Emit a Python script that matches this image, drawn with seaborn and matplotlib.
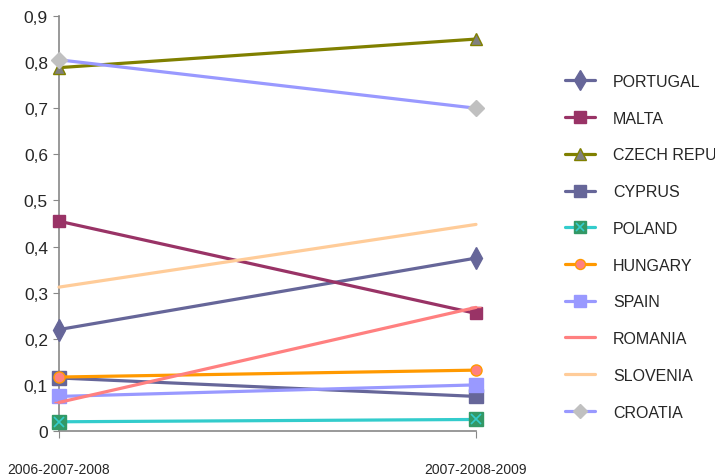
import matplotlib
matplotlib.use("Agg")
import matplotlib.pyplot as plt
import seaborn as sns
import pandas as pd
from matplotlib.lines import Line2D
from matplotlib.legend_handler import HandlerTuple
from matplotlib.ticker import FuncFormatter

periods = ["2006-2007-2008", "2007-2008-2009"]
countries = ["PORTUGAL", "MALTA", "CZECH REPUBLIC", "CYPRUS", "POLAND",
             "HUNGARY", "SPAIN", "ROMANIA", "SLOVENIA", "CROATIA"]
portugal = [0.22, 0.375]
malta = [0.455, 0.255]
czech = [0.788, 0.85]
cyprus = [0.115, 0.075]
poland = [0.02, 0.025]
hungary = [0.117, 0.132]
spain = [0.075, 0.1]
romania = [0.062, 0.268]
slovenia = [0.312, 0.448]
croatia = [0.805, 0.70]
yticks = [0, 0.1, 0.2, 0.3, 0.4, 0.5, 0.6, 0.7, 0.8, 0.9]

values = [portugal, malta, czech, cyprus, poland, hungary, spain, romania, slovenia, croatia]

styles = {
    "PORTUGAL": dict(color="#666699", marker="d", ms=11, mfc="#666699", mec="#666699"),
    "MALTA": dict(color="#993366", marker="s", ms=9, mfc="#993366", mec="#993366"),
    "CZECH REPUBLIC": dict(color="#808000", marker="^", ms=9, mfc="#808080", mec="#808000"),
    "CYPRUS": dict(color="#666699", marker="s", ms=10, mfc="#666699", mec="#666699"),
    "POLAND": dict(color="#33CCCC", marker="s", ms=10, mfc="#339966", mec="#339966"),
    "HUNGARY": dict(color="#FF9900", marker="o", ms=8, mfc="#FF8080", mec="#FF9900"),
    "SPAIN": dict(color="#9999FF", marker="s", ms=10, mfc="#9999FF", mec="#9999FF"),
    "ROMANIA": dict(color="#FF8080", marker="_", ms=7, mfc="#FF8080", mec="#FF8080"),
    "SLOVENIA": dict(color="#FFCC99", marker=None, ms=0, mfc="#FFCC99", mec="#FFCC99"),
    "CROATIA": dict(color="#9999FF", marker="D", ms=8, mfc="#C0C0C0", mec="#C0C0C0"),
}

rows = []
for c, v in zip(countries, values):
    for i, p in enumerate(periods):
        rows.append({"country": c, "x": i, "value": v[i]})
df = pd.DataFrame(rows)

sns.set_style("white")
plt.rcParams['font.family'] = ['Liberation Sans', 'DejaVu Sans']

fig = plt.figure(figsize=(7.15, 4.77), dpi=100)
ax = fig.add_axes([59/715, 1-432/477, (476-59)/715, (432-17)/477])

handles = []
for c in countries:
    st = styles[c]
    sub = df[df["country"] == c]
    sns.lineplot(data=sub, x="x", y="value", ax=ax, color=st["color"], lw=2.3,
                 marker=st["marker"] if st["marker"] else None,
                 markersize=st["ms"], markerfacecolor=st["mfc"],
                 markeredgecolor=st["mec"], markeredgewidth=1.0,
                 legend=False, clip_on=False, zorder=3)
    h = Line2D([], [], color=st["color"], lw=2.3, marker=st["marker"],
               markersize=st["ms"] * 0.9, markerfacecolor=st["mfc"],
               markeredgecolor=st["mec"])
    if c == "POLAND":
        hx = Line2D([], [], color="none", marker="x", markersize=6,
                    markeredgecolor="#33CCCC", markeredgewidth=1.2)
        handles.append((h, hx))
    else:
        handles.append(h)

# X glyph on Poland markers
ax.plot([0, 1], poland, ls="none", marker="x", ms=7, mec="#33CCCC", mew=1.2,
        clip_on=False, zorder=4)

ax.set_xlim(0, 1)
ax.set_ylim(0, 0.9)
ax.set_xticks([0, 1])
ax.set_xticklabels(periods, fontsize=10)
ax.set_yticks(yticks)
ax.yaxis.set_major_formatter(FuncFormatter(lambda v, p: ("%g" % round(v, 1)).replace(".", ",")))
ax.tick_params(axis="y", labelsize=12.5, length=4, color="#888888", direction="out", left=True, pad=4)
ax.tick_params(axis="x", length=5, color="#888888", direction="out", bottom=True, pad=17)
ax.set_xlabel("")
ax.set_ylabel("")
for s in ["top", "right"]:
    ax.spines[s].set_visible(False)
for s in ["left", "bottom"]:
    ax.spines[s].set_color("#888888")
    ax.spines[s].set_linewidth(1.2)
    ax.spines[s].set_zorder(2)

leg = fig.legend(handles, countries, loc="upper left", bbox_to_anchor=(565/715, 1-75/477),
                 frameon=False, fontsize=11.5, labelspacing=1.36, handlelength=1.9,
                 handletextpad=1.1, borderaxespad=0, borderpad=0,
                 handler_map={tuple: HandlerTuple(ndivide=1, pad=0)})

fig.savefig("out.png", dpi=100)
